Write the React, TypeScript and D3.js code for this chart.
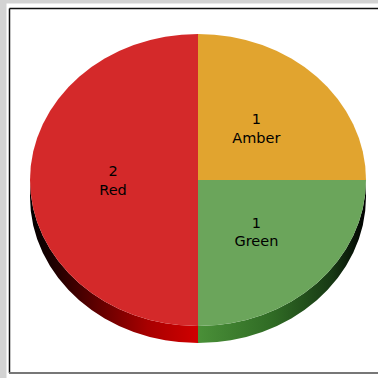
import React from "react";
import * as d3 from "d3";

const categories = ["Amber", "Green", "Red"];
const values = [1, 1, 2];
const topColors = ["#e1a42f", "#6ba55b", "#d4292a"];

const W = 378;
const H = 378;
const cx = 198;
const cy = 180;
const rx = 168;
const ry = 146;
const depth = 17;

export default function App() {
  const pie = d3.pie<number>().sort(null).value((d) => d);
  const arcs = pie(values);
  const arcGen = d3.arc<any>().innerRadius(0).outerRadius(1);
  const labelArc = d3.arc<any>().innerRadius(0).outerRadius(1);

  const pt = (a: number, dy = 0) => [cx + rx * Math.sin(a), cy - ry * Math.cos(a) + dy];

  const sidePath = (a0: number, a1: number) => {
    const lo = Math.max(a0, Math.PI / 2);
    const hi = Math.min(a1, (3 * Math.PI) / 2);
    if (hi <= lo) return null;
    const p0 = pt(lo);
    const p1 = pt(hi);
    const p1d = pt(hi, depth);
    const p0d = pt(lo, depth);
    return `M${p0[0]},${p0[1]} A${rx},${ry} 0 0 1 ${p1[0]},${p1[1]} L${p1d[0]},${p1d[1]} A${rx},${ry} 0 0 0 ${p0d[0]},${p0d[1]} Z`;
  };

  const sideFill = ["none", "url(#gGreen)", "url(#gRed)"];

  return (
    <div style={{ position: "absolute", left: 0, top: 0, width: W, height: H }}>
      <svg width={W} height={H} style={{ display: "block" }}>
        <defs>
          <linearGradient id="gGreen" gradientUnits="userSpaceOnUse" x1={cx} y1={0} x2={cx + rx} y2={0}>
            <stop offset="0" stopColor="#4a9038" />
            <stop offset="0.45" stopColor="#2f6a24" />
            <stop offset="0.8" stopColor="#173814" />
            <stop offset="1" stopColor="#000000" />
          </linearGradient>
          <linearGradient id="gRed" gradientUnits="userSpaceOnUse" x1={cx} y1={0} x2={cx - rx} y2={0}>
            <stop offset="0" stopColor="#d00000" />
            <stop offset="0.3" stopColor="#a80000" />
            <stop offset="0.6" stopColor="#600000" />
            <stop offset="0.85" stopColor="#200000" />
            <stop offset="1" stopColor="#000000" />
          </linearGradient>
        </defs>
        <rect x={0} y={0} width={W} height={H} fill="#ffffff" />
        <rect x={0} y={0} width={W} height={3.5} fill="#d3d3d3" />
        <rect x={0} y={0} width={6.5} height={H} fill="#d3d3d3" />
        <line x1={9.5} y1={8.5} x2={W} y2={8.5} stroke="#111" strokeWidth={1.5} />
        <line x1={9.5} y1={8.5} x2={9.5} y2={373} stroke="#111" strokeWidth={1.5} />
        <line x1={9} y1={373} x2={W} y2={373} stroke="#777" strokeWidth={2} />

        {arcs.map((a, i) => {
          const p = sidePath(a.startAngle, a.endAngle);
          return p ? <path key={"s" + i} d={p} fill={sideFill[i]} /> : null;
        })}

        <g transform={`translate(${cx},${cy}) scale(${rx},${ry})`}>
          {arcs.map((a, i) => (
            <path key={"t" + i} d={arcGen(a) as string} fill={topColors[i]} />
          ))}
        </g>

        {arcs.map((a, i) => {
          const c = labelArc.centroid(a);
          const x = cx + c[0] * rx - 1;
          const y = cy + c[1] * ry;
          return (
            <text
              key={"l" + i}
              x={x}
              y={y}
              textAnchor="middle"
              fontFamily="DejaVu Sans, sans-serif"
              fontSize={14.5}
              fill="#000"
            >
              <tspan x={x} dy={-4}>{values[i]}</tspan>
              <tspan x={x} dy={18.5}>{categories[i]}</tspan>
            </text>
          );
        })}
      </svg>
    </div>
  );
}
